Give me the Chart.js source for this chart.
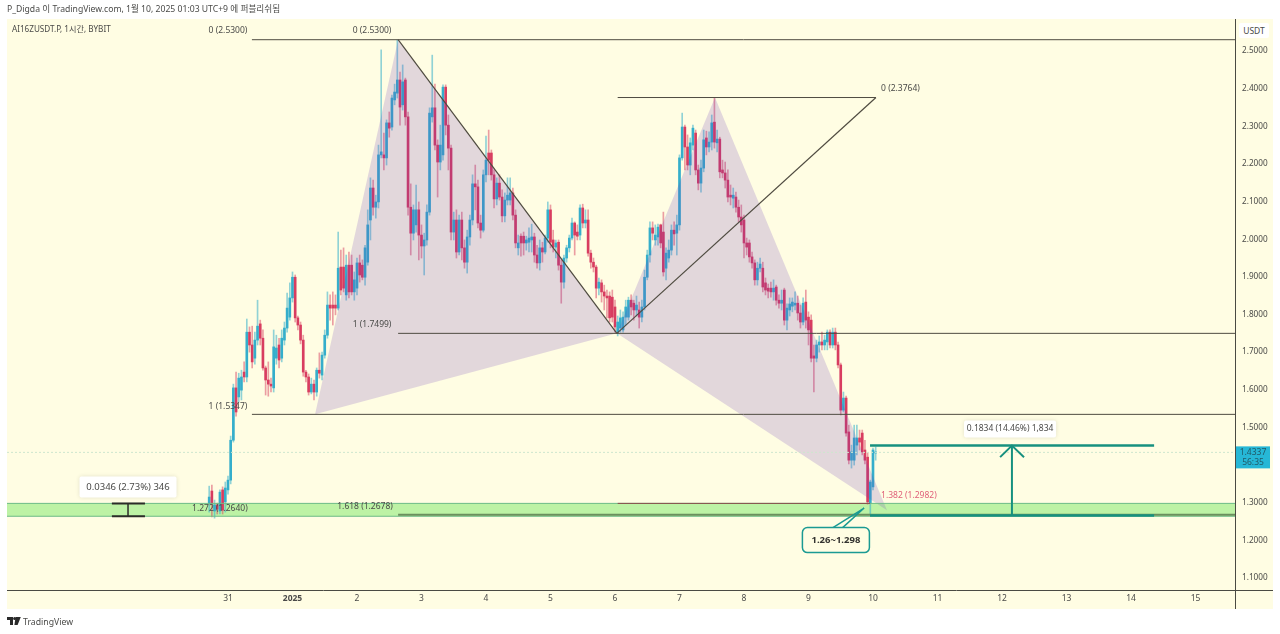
<!DOCTYPE html>
<html>
<head>
<meta charset="utf-8">
<script src="https://cdn.jsdelivr.net/npm/chart.js@4"></script>
<style>
  body { margin: 0; background: #fff; width: 1280px; height: 634px; overflow: hidden; position: relative;
    font-family: "Noto Sans", "Noto Sans CJK KR", sans-serif; color: #4a4a48; }
  #pane { position: absolute; left: 7px; top: 19px; width: 1266px; height: 590px; background: #fffde3; }
  canvas { position: absolute; left: 0; top: 0; }
  .txt { position: absolute; white-space: nowrap; font-size: 9px; line-height: 12px; }
  #usdt { position: absolute; left: 1239px; top: 23px; width: 30px; height: 15px; background: #fff; border-radius: 2px;
    text-align: center; font-size: 8.5px; line-height: 15px; }
  #logo { position: absolute; left: 7px; top: 617px; }
</style>
</head>
<body>
<div id="pane"></div>
<canvas id="chart" width="1280" height="634"></canvas>
<div class="txt" style="left:7px;top:3px;font-size:8.65px">P_Digda 이 TradingView.com, 1월 10, 2025 01:03 UTC+9 에 퍼블리쉬됨</div>
<div class="txt" style="left:12px;top:23px;font-size:8.15px">AI16ZUSDT.P, 1시간, BYBIT</div>
<div id="usdt">USDT</div>
<svg id="logo" width="14" height="9" viewBox="0 0 14 9"><path d="M0 0h6v8H3V3H0zM8.6 0h5.2L10.6 8H7.4z" fill="#2a2a2a"/><circle cx="7.6" cy="1.6" r="1.5" fill="#2a2a2a"/></svg>
<div class="txt" style="left:23px;top:616px;font-size:8.7px">TradingView</div>

<script>
'use strict';

// hourly candles, first one is 7 hours before Dec 31 00:00
const firstHour = -7;

const opens = [
  1.299,1.331,1.278,1.294,1.278,1.334,1.302,1.334,1.360,1.466,1.605,1.581,
  1.599,1.647,1.634,1.753,1.719,1.684,1.732,1.775,1.737,1.658,1.626,1.615,
  1.605,1.684,1.719,1.684,1.732,1.764,1.793,1.844,1.899,1.791,1.772,1.732,
  1.647,1.634,1.594,1.615,1.594,1.652,1.639,1.692,1.745,1.825,1.825,1.825,
  1.817,1.926,1.926,1.852,1.931,1.931,1.860,1.870,1.937,1.931,1.899,1.939,
  2.051,2.136,2.085,2.099,2.224,2.224,2.216,2.309,2.298,2.370,2.388,2.423,
  2.357,2.423,2.325,2.085,2.016,2.038,2.078,2.011,1.982,1.998,2.072,2.325,
  2.349,2.250,2.205,2.224,2.404,2.303,2.242,2.019,2.051,1.966,2.051,1.977,
  1.939,2.006,2.051,2.147,2.139,2.043,2.024,2.171,2.229,2.229,2.171,2.107,
  2.149,2.112,2.062,2.104,2.104,2.123,2.064,1.977,2.008,2.008,1.990,1.992,
  1.998,2.006,1.958,1.937,1.977,1.966,2.003,2.078,1.998,1.979,1.992,1.931,
  1.886,1.950,1.977,2.003,2.043,2.019,2.011,2.083,2.043,2.051,1.963,1.939,
  1.926,1.870,1.884,1.860,1.849,1.849,1.846,1.820,1.753,1.764,1.759,1.793,
  1.793,1.838,1.830,1.812,1.812,1.793,1.820,1.899,1.958,2.030,1.998,2.006,
  2.038,2.019,1.923,1.950,1.971,2.024,2.016,2.038,2.216,2.298,2.245,2.197,
  2.250,2.282,2.184,2.149,2.189,2.269,2.245,2.258,2.311,2.256,2.266,2.184,
  2.176,2.157,2.117,2.109,2.112,2.085,2.059,2.051,1.990,1.990,1.953,1.937,
  1.892,1.923,1.923,1.884,1.870,1.870,1.860,1.873,1.838,1.830,1.865,1.785,
  1.812,1.822,1.825,1.830,1.804,1.780,1.833,1.793,1.785,1.690,1.684,1.719,
  1.727,1.719,1.727,1.753,1.719,1.753,1.719,1.666,1.546,1.578,1.488,1.413,
  1.413,1.453,1.472,1.485,1.440,1.421,1.299,1.342,1.432
];
const closes = [
  1.315,1.299,1.294,1.283,1.328,1.280,1.339,1.360,1.466,1.605,1.541,1.631,
  1.634,1.634,1.753,1.719,1.674,1.732,1.769,1.737,1.658,1.626,1.615,1.610,
  1.714,1.711,1.679,1.737,1.764,1.817,1.844,1.899,1.791,1.772,1.732,1.647,
  1.634,1.594,1.615,1.594,1.652,1.644,1.692,1.745,1.825,1.817,1.817,1.817,
  1.923,1.865,1.870,1.931,1.860,1.860,1.892,1.937,1.905,1.899,1.977,2.038,
  2.136,2.085,2.099,2.224,2.232,2.216,2.309,2.295,2.375,2.391,2.423,2.351,
  2.418,2.325,2.085,2.016,2.078,2.078,2.011,1.982,1.998,2.072,2.335,2.349,
  2.250,2.205,2.250,2.404,2.303,2.242,2.019,2.051,1.966,2.051,1.977,1.939,
  2.006,2.051,2.147,2.139,2.043,2.024,2.171,2.210,2.210,2.171,2.107,2.149,
  2.112,2.062,2.104,2.117,2.123,2.064,1.990,1.990,1.990,1.990,1.998,2.003,
  2.006,1.958,1.937,1.977,1.966,2.003,2.078,1.992,1.979,1.990,1.931,1.886,
  1.950,1.977,2.003,2.043,2.011,2.008,2.083,2.043,2.051,1.963,1.939,1.926,
  1.870,1.886,1.860,1.849,1.844,1.791,1.793,1.767,1.780,1.791,1.793,1.820,
  1.838,1.820,1.812,1.825,1.793,1.820,1.899,1.958,2.030,2.016,2.011,2.032,
  1.990,1.913,1.963,1.971,2.024,2.014,2.038,2.216,2.298,2.245,2.197,2.256,
  2.295,2.184,2.149,2.189,2.264,2.245,2.258,2.309,2.258,2.266,2.179,2.176,
  2.157,2.112,2.112,2.117,2.085,2.059,2.038,1.990,1.979,1.953,1.937,1.892,
  1.923,1.934,1.873,1.865,1.862,1.860,1.870,1.838,1.830,1.838,1.785,1.817,
  1.828,1.833,1.830,1.804,1.780,1.830,1.785,1.759,1.684,1.684,1.719,1.727,
  1.719,1.732,1.753,1.719,1.753,1.719,1.666,1.546,1.578,1.485,1.413,1.435,
  1.472,1.472,1.461,1.435,1.413,1.302,1.355,1.440,1.435
];
const highs = [
  1.344,1.347,1.307,1.299,1.334,1.342,1.355,1.371,1.477,1.615,1.647,1.644,
  1.652,1.674,1.788,1.767,1.769,1.753,1.838,1.785,1.759,1.663,1.674,1.631,
  1.759,1.745,1.737,1.759,1.780,1.857,1.884,1.913,1.905,1.796,1.780,1.745,
  1.652,1.642,1.631,1.626,1.658,1.698,1.700,1.759,1.860,1.852,1.860,1.852,
  2.019,1.971,1.977,1.958,1.966,1.958,1.913,1.950,1.958,1.945,1.984,2.078,
  2.163,2.157,2.117,2.250,2.503,2.282,2.317,2.338,2.383,2.412,2.529,2.444,
  2.463,2.428,2.338,2.147,2.091,2.144,2.099,2.038,2.016,2.091,2.349,2.489,
  2.412,2.264,2.303,2.410,2.410,2.330,2.250,2.072,2.078,2.064,2.072,1.998,
  2.024,2.064,2.171,2.197,2.157,2.064,2.184,2.274,2.290,2.237,2.184,2.163,
  2.171,2.131,2.123,2.163,2.163,2.136,2.078,2.011,2.014,2.019,2.008,2.030,
  2.040,2.016,1.984,1.998,1.992,2.011,2.099,2.091,2.024,1.998,1.998,1.945,
  1.958,1.984,2.011,2.056,2.046,2.038,2.091,2.093,2.078,2.078,1.971,1.950,
  1.931,1.897,1.892,1.878,1.865,1.860,1.865,1.838,1.796,1.812,1.807,1.838,
  1.846,1.852,1.838,1.849,1.833,1.838,1.918,1.971,2.046,2.046,2.038,2.040,
  2.040,2.072,1.977,1.998,2.038,2.046,2.064,2.224,2.335,2.303,2.277,2.269,
  2.303,2.290,2.197,2.210,2.290,2.287,2.285,2.330,2.375,2.290,2.271,2.210,
  2.205,2.184,2.144,2.136,2.125,2.104,2.091,2.064,2.003,1.998,1.966,1.945,
  1.939,1.950,1.939,1.897,1.881,1.886,1.892,1.878,1.852,1.865,1.870,1.828,
  1.844,1.844,1.860,1.849,1.825,1.844,1.865,1.807,1.799,1.719,1.732,1.743,
  1.753,1.745,1.759,1.759,1.764,1.764,1.727,1.671,1.594,1.583,1.506,1.453,
  1.506,1.506,1.493,1.493,1.466,1.432,1.360,1.445,1.448
];
const lows = [
  1.275,1.262,1.259,1.270,1.270,1.270,1.275,1.323,1.350,1.461,1.530,1.567,
  1.573,1.621,1.621,1.700,1.658,1.668,1.719,1.719,1.652,1.586,1.583,1.594,
  1.594,1.668,1.658,1.674,1.719,1.753,1.785,1.833,1.780,1.759,1.722,1.636,
  1.621,1.586,1.589,1.573,1.583,1.631,1.626,1.684,1.737,1.785,1.772,1.799,
  1.812,1.852,1.860,1.838,1.844,1.852,1.838,1.852,1.886,1.892,1.878,1.931,
  1.998,2.064,2.056,2.083,2.216,2.184,2.197,2.271,2.290,2.357,2.375,2.303,
  2.343,2.303,2.064,1.958,1.998,2.019,1.945,1.950,1.905,1.984,2.064,2.311,
  2.237,2.112,2.184,2.210,2.277,2.184,1.998,1.998,1.950,1.958,1.945,1.923,
  1.910,1.984,2.038,2.078,2.030,2.003,2.019,2.152,2.171,2.157,2.083,2.091,
  2.104,2.046,2.046,2.091,2.091,2.051,1.977,1.958,1.955,1.958,1.971,1.966,
  1.966,1.939,1.923,1.918,1.939,1.961,1.992,1.977,1.966,1.950,1.918,1.830,
  1.870,1.939,1.966,1.998,1.958,1.998,1.998,2.030,2.030,1.955,1.923,1.913,
  1.844,1.852,1.833,1.812,1.791,1.780,1.780,1.753,1.743,1.753,1.753,1.772,
  1.785,1.799,1.785,1.796,1.764,1.780,1.812,1.892,1.939,1.998,1.984,1.984,
  1.977,1.902,1.892,1.939,1.958,1.984,1.958,2.024,2.210,2.184,2.184,2.171,
  2.237,2.171,2.131,2.125,2.179,2.224,2.232,2.237,2.242,2.232,2.163,2.163,
  2.136,2.099,2.091,2.083,2.072,2.046,2.019,1.950,1.958,1.939,1.923,1.878,
  1.878,1.913,1.860,1.852,1.844,1.846,1.838,1.825,1.817,1.812,1.772,1.759,
  1.796,1.807,1.812,1.785,1.764,1.772,1.764,1.719,1.674,1.594,1.674,1.700,
  1.706,1.706,1.706,1.711,1.711,1.706,1.658,1.533,1.541,1.477,1.403,1.392,
  1.400,1.427,1.440,1.427,1.403,1.296,1.270,1.334,1.413
];

const dayHours = [0, 24, 48, 72, 96, 120, 144, 168, 192, 216, 240, 264, 288, 312, 336, 360];
const dayLabels = ['31', '2025', '2', '3', '4', '5', '6', '7', '8', '9', '10', '11', '12', '13', '14', '15'];
const priceTicks = [1.1, 1.2, 1.3, 1.4, 1.5, 1.6, 1.7, 1.8, 1.9, 2.0, 2.1, 2.2, 2.3, 2.4, 2.5];
const lastPrice = 1.4337;
const countdown = '56:35';

// harmonic pattern pivots
const pivotHours = [32.4, 63.3, 144.7, 181.2, 245.2];
const pivotPrices = [1.5347, 2.53, 1.7499, 2.3764, 1.28];

const hourMin = -82.23;
const hourMax = 374.7;
const priceMin = 1.0681;
const priceMax = 2.585;

const zoneTop = 1.2982;
const zoneBottom = 1.264;
const targetPrice = 1.4517;
const basePrice = 1.2658;

const upColor = '#35aecb';
const downColor = '#d83d60';
const upWick = 'rgba(53,174,203,0.55)';
const downWick = 'rgba(216,61,96,0.5)';
const lineColor = '#4f4b40';
const teal = '#17907f';

let hours = closes.map(function(c, i) { return firstHour + i; });

function seg(h1, p1, h2, p2, color, width, order, dash) {
  return {
    type: 'line', parsing: true, order: order, fill: false, pointRadius: 0, tension: 0,
    borderColor: color, borderWidth: width, borderDash: dash || [],
    data: [{ x: h1, y: p1 }, { x: h2, y: p2 }]
  };
}

function poly(points, color, width, order) {
  return {
    type: 'line', order: order, fill: false, pointRadius: 0, tension: 0, borderColor: color, borderWidth: width,
    data: points.map(function(p) { return { x: p[0], y: p[1] }; })
  };
}

// area between an upper and a lower edge; lower one must follow right after
function areaEdge(points, fillColor, order) {
  let d = poly(points, 'rgba(0,0,0,0)', 0, order);
  if (fillColor) {
    d.fill = '+1';
    d.backgroundColor = fillColor;
  }
  return d;
}

const patternFill = 'rgba(100,55,185,0.19)';
const P = pivotHours.map(function(h, i) { return [h, pivotPrices[i]]; });

const datasets = [
  areaEdge([[hourMin, zoneTop], [hourMax, zoneTop]], '#bdf2a5', 20),
  areaEdge([[hourMin, zoneBottom], [hourMax, zoneBottom]], null, 20),
  {
    type: 'bar', order: 12, grouped: false, barThickness: 1,
    data: hours.map(function(h, i) { return { x: h, y: [lows[i], highs[i]] }; }),
    backgroundColor: closes.map(function(c, i) { return c >= opens[i] ? upWick : downWick; })
  },
  {
    type: 'bar', order: 11, grouped: false, barThickness: 2,
    data: hours.map(function(h, i) { return { x: h, y: [opens[i], closes[i]] }; }),
    backgroundColor: closes.map(function(c, i) { return c >= opens[i] ? upColor : downColor; })
  },
  areaEdge([P[0], P[1], P[2]], patternFill, 10),
  areaEdge([P[0], P[2]], null, 10),
  areaEdge([P[2], P[3], P[4]], patternFill, 9),
  areaEdge([P[2], P[4]], null, 9),
  seg(hourMin, lastPrice, hourMax, lastPrice, '#cfe6cf', 1, 8, [2, 2]),
  seg(hourMin, zoneTop, hourMax, zoneTop, '#6dbb86', 1, 8),
  seg(hourMin, zoneBottom, hourMax, zoneBottom, '#6dbb86', 1, 8),
  seg(145, zoneTop, 238.9, zoneTop, '#8a4a4a', 1, 7),
  seg(63.3, 1.2678, hourMax, 1.2678, '#6b8f5e', 2, 7),
  seg(8.9, 2.53, hourMax, 2.53, lineColor, 1, 6),
  seg(145, 2.3764, 241.1, 2.3764, lineColor, 1, 6),
  seg(63.3, 1.7499, hourMax, 1.7499, lineColor, 1, 6),
  seg(8.9, 1.5347, hourMax, 1.5347, lineColor, 1, 6),
  seg(63.3, 2.53, 144.7, 1.7499, lineColor, 1.2, 5),
  seg(144.7, 1.7499, 241.1, 2.3764, lineColor, 1.2, 5),
  // ruler on the left
  seg(-37.2, zoneTop, -37.2, zoneBottom, '#2c2c28', 1.5, 4),
  seg(-43.2, zoneTop, -30.9, zoneTop, '#2c2c28', 2, 4),
  seg(-43.2, zoneBottom, -30.9, zoneBottom, '#2c2c28', 2, 4),
  // target arrow
  seg(238.9, targetPrice, 344.6, targetPrice, teal, 2.5, 3),
  seg(238.9, basePrice, 344.6, basePrice, teal, 2.5, 3),
  seg(291.7, basePrice, 291.7, targetPrice, teal, 2, 3),
  poly([[287.3, 1.421], [291.7, targetPrice], [296.2, 1.421]], teal, 2, 3),
  // callout pointer
  poly([[224.8, 1.2326], [236.7, 1.2858], [228.5, 1.2326]], '#1b9a93', 1.5, 2)
];

// text on the chart, anchored in hours and prices
const plainLabels = [
  ['0 (2.5300)', 0, 2.553, 'center', '#4a4a48'],
  ['0 (2.5300)', 53.6, 2.553, 'center', '#4a4a48'],
  ['0 (2.3764)', 243, 2.399, 'left', '#4a4a48'],
  ['1 (1.7499)', 53.6, 1.772, 'center', '#4a4a48'],
  ['1 (1.5347)', 0, 1.5565, 'center', '#4a4a48'],
  ['1.272 (1.2640)', -3, 1.2857, 'center', '#4a4a48'],
  ['1.618 (1.2678)', 51, 1.2885, 'center', '#4a4a48'],
  ['1.382 (1.2982)', 243, 1.32, 'left', '#e0607a']
];
const boxLabels = [
  ['0.0346 (2.73%) 346', -37.2, 1.3416, 97, 21, 9.5],
  ['0.1834 (14.46%) 1,834', 291, 1.4957, 92, 17, 8.5]
];

const chartFont = '"Noto Sans", "Noto Sans CJK KR", sans-serif';

const overlayPlugin = {
  id: 'overlay',
  afterDatasetsDraw: function(chart) {
    const ctx = chart.ctx;
    const xs = chart.scales.x;
    const ys = chart.scales.y;
    ctx.save();
    ctx.textBaseline = 'middle';

    plainLabels.forEach(function(l) {
      ctx.font = '8.5px ' + chartFont;
      ctx.textAlign = l[3];
      ctx.fillStyle = l[4];
      ctx.fillText(l[0], xs.getPixelForValue(l[1]), ys.getPixelForValue(l[2]));
    });

    boxLabels.forEach(function(b) {
      const cx = xs.getPixelForValue(b[1]);
      const cy = ys.getPixelForValue(b[2]);
      ctx.shadowColor = 'rgba(0,0,0,0.12)';
      ctx.shadowBlur = 4;
      ctx.fillStyle = '#fff';
      ctx.beginPath();
      ctx.roundRect(cx - b[3] / 2, cy - b[4] / 2, b[3], b[4], 2);
      ctx.fill();
      ctx.shadowBlur = 0;
      ctx.shadowColor = 'transparent';
      ctx.font = b[5] + 'px ' + chartFont;
      ctx.textAlign = 'center';
      ctx.fillStyle = '#4a4a48';
      ctx.fillText(b[0], cx, cy);
    });

    // 1.26~1.298 callout
    const cx = xs.getPixelForValue(226.2);
    const cy = ys.getPixelForValue(1.2007);
    ctx.fillStyle = '#fffde3';
    ctx.strokeStyle = '#1b9a93';
    ctx.lineWidth = 1.5;
    ctx.beginPath();
    ctx.roundRect(cx - 33.5, cy - 12.5, 67, 25, 5);
    ctx.fill();
    ctx.stroke();
    ctx.font = 'bold 9.5px ' + chartFont;
    ctx.textAlign = 'center';
    ctx.fillStyle = '#33332f';
    ctx.fillText('1.26~1.298', cx, cy);
    ctx.restore();
  },
  afterDraw: function(chart) {
    const ctx = chart.ctx;
    const area = chart.chartArea;
    const ys = chart.scales.y;
    ctx.save();
    ctx.strokeStyle = '#4a4a42';
    ctx.lineWidth = 1;
    ctx.beginPath();
    ctx.moveTo(area.right + 0.5, area.top);
    ctx.lineTo(area.right + 0.5, area.bottom + 19);
    ctx.moveTo(area.left, area.bottom + 0.5);
    ctx.lineTo(area.right + 38, area.bottom + 0.5);
    ctx.stroke();

    // last price tag
    const py = ys.getPixelForValue(lastPrice);
    ctx.fillStyle = '#26b7d6';
    ctx.fillRect(area.right + 1, py - 6, 34, 22);
    ctx.fillStyle = '#205a68';
    ctx.font = '8.5px ' + chartFont;
    ctx.textAlign = 'center';
    ctx.textBaseline = 'middle';
    ctx.fillText(lastPrice.toFixed(4), area.right + 18, py);
    ctx.fillText(countdown, area.right + 18, py + 10);
    ctx.restore();
  }
};

new Chart(document.getElementById('chart'), {
  type: 'bar',
  data: { datasets: datasets },
  plugins: [overlayPlugin],
  options: {
    responsive: false,
    animation: false,
    devicePixelRatio: 1,
    layout: { padding: { left: 7, top: 19, right: 12, bottom: 25 } },
    plugins: { legend: { display: false }, tooltip: { enabled: false } },
    scales: {
      x: {
        type: 'linear', offset: false, min: hourMin, max: hourMax,
        grid: { display: false, drawTicks: false }, border: { display: false },
        afterBuildTicks: function(scale) {
          scale.ticks = dayHours.map(function(h) { return { value: h }; });
        },
        afterFit: function(scale) { scale.height = 19; },
        ticks: {
          autoSkip: false, maxRotation: 0, padding: 3, color: '#4a4a48',
          font: function(c) {
            return { size: 8.5, family: chartFont, weight: c.index === 1 ? 'bold' : 'normal' };
          },
          callback: function(v, i) { return dayLabels[i]; }
        }
      },
      y: {
        type: 'linear', position: 'right', min: priceMin, max: priceMax,
        grid: { display: false, drawTicks: false }, border: { display: false },
        afterBuildTicks: function(scale) {
          scale.ticks = priceTicks.map(function(p) { return { value: p }; });
        },
        afterFit: function(scale) { scale.width = 33; },
        ticks: {
          padding: 7, color: '#4a4a48', font: { size: 8.2, family: chartFont },
          callback: function(v) { return v.toFixed(4); }
        }
      }
    }
  }
});
</script>
</body>
</html>
